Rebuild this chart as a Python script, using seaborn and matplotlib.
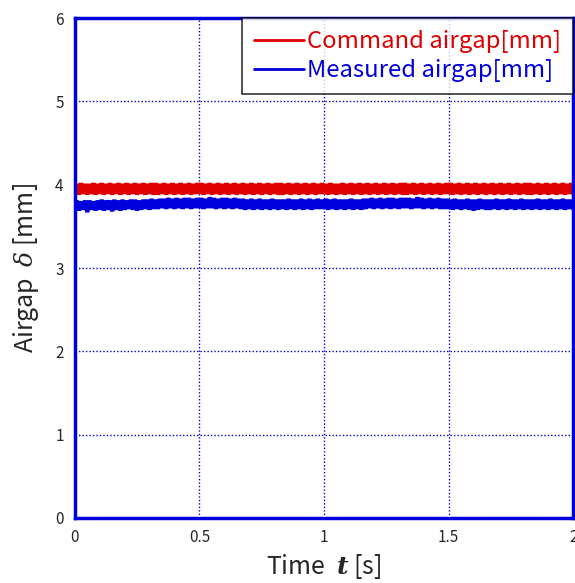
import numpy as np
import pandas as pd
import matplotlib
matplotlib.use('Agg')
import matplotlib.pyplot as plt
import seaborn as sns

# command airgap [mm] (centre of trace about 3.88 .. 4.02)
command_gap = [
    3.89, 4.01, 3.88, 4.02, 3.89, 4.01, 3.88, 4.01, 3.89, 4.02, 3.88, 4.01, 3.89, 4.02, 3.88, 4.01, 3.89, 4.02, 3.88, 4.01,
    3.89, 4.02, 3.88, 4.01, 3.89, 4.02, 3.88, 4.01, 3.89, 4.02, 3.88, 4.01, 3.89, 4.02, 3.88, 4.01, 3.89, 4.02, 3.88, 4.02,
    3.88, 4.01, 3.89, 4.02, 3.88, 4.01, 3.89, 4.02, 3.88, 4.01, 3.89, 4.02, 3.88, 4.01, 3.89, 4.02, 3.88, 4.01, 3.89, 4.02,
    3.89, 4.02, 3.88, 4.01, 3.89, 4.02, 3.88, 4.01, 3.89, 4.02, 3.88, 4.01, 3.89, 4.02, 3.88, 4.01, 3.89, 4.02, 3.88, 4.01,
    3.89, 4.02, 3.88, 4.01, 3.89, 4.02, 3.88, 4.01, 3.89, 4.02, 3.88, 4.01, 3.89, 4.02, 3.88, 4.01, 3.89, 4.02, 3.88, 4.02,
    3.88, 4.01, 3.89, 4.02, 3.88, 4.01, 3.89, 4.02, 3.88, 4.01, 3.89, 4.02, 3.88, 4.01, 3.89, 4.02, 3.88, 4.01, 3.89, 4.02,
    3.89, 4.01, 3.88, 4.02, 3.89, 4.01, 3.88, 4.01, 3.89, 4.02, 3.88, 4.01, 3.89, 4.02, 3.88, 4.01, 3.89, 4.02, 3.88, 4.01,
    3.89, 4.02, 3.88, 4.01, 3.89, 4.02, 3.88, 4.01, 3.89, 4.02, 3.88, 4.01, 3.89, 4.02, 3.88, 4.01, 3.89, 4.02, 3.88, 4.02,
    3.88, 4.01, 3.89, 4.02, 3.88, 4.01, 3.89, 4.02, 3.88, 4.01, 3.89, 4.02, 3.88, 4.01, 3.89, 4.02, 3.88, 4.01, 3.89, 4.02,
    3.89, 4.02, 3.88, 4.01, 3.89, 4.02, 3.88, 4.01, 3.89, 4.02, 3.88, 4.01, 3.89, 4.02, 3.88, 4.01, 3.89, 4.02, 3.88, 4.01,
    3.89, 4.02, 3.88, 4.01, 3.89, 4.02, 3.88, 4.01, 3.89, 4.02, 3.88, 4.01, 3.89, 4.02, 3.88, 4.01, 3.89, 4.02, 3.88, 4.02,
    3.88, 4.01, 3.89, 4.02, 3.88, 4.01, 3.89, 4.02, 3.88, 4.01, 3.89, 4.02, 3.88, 4.01, 3.89, 4.02, 3.88, 4.01, 3.89, 4.02,
    3.89,
]
# measured airgap [mm] (centre of trace about 3.68 .. 3.84)
measured_gap = [
    3.70, 3.81, 3.69, 3.80, 3.70, 3.81, 3.67, 3.81, 3.70, 3.80, 3.69, 3.81, 3.70, 3.82, 3.69, 3.81, 3.70, 3.81, 3.68, 3.82,
    3.70, 3.81, 3.69, 3.82, 3.70, 3.81, 3.71, 3.82, 3.70, 3.82, 3.69, 3.81, 3.70, 3.82, 3.71, 3.82, 3.70, 3.83, 3.71, 3.82,
    3.71, 3.83, 3.72, 3.83, 3.71, 3.84, 3.72, 3.83, 3.71, 3.84, 3.72, 3.83, 3.71, 3.84, 3.72, 3.84, 3.71, 3.83, 3.72, 3.84,
    3.72, 3.84, 3.71, 3.83, 3.72, 3.85, 3.72, 3.84, 3.71, 3.83, 3.72, 3.84, 3.71, 3.84, 3.72, 3.83, 3.71, 3.84, 3.72, 3.83,
    3.71, 3.83, 3.70, 3.82, 3.71, 3.83, 3.70, 3.82, 3.71, 3.83, 3.70, 3.82, 3.71, 3.82, 3.70, 3.83, 3.71, 3.82, 3.70, 3.82,
    3.71, 3.82, 3.70, 3.83, 3.71, 3.82, 3.70, 3.82, 3.71, 3.83, 3.70, 3.82, 3.71, 3.83, 3.70, 3.82, 3.71, 3.83, 3.71, 3.82,
    3.71, 3.83, 3.70, 3.82, 3.71, 3.83, 3.70, 3.82, 3.71, 3.82, 3.70, 3.82, 3.71, 3.83, 3.70, 3.82, 3.71, 3.82, 3.70, 3.83,
    3.71, 3.83, 3.72, 3.84, 3.71, 3.83, 3.72, 3.84, 3.71, 3.83, 3.72, 3.84, 3.71, 3.84, 3.72, 3.83, 3.71, 3.84, 3.72, 3.84,
    3.72, 3.84, 3.71, 3.83, 3.72, 3.85, 3.72, 3.84, 3.71, 3.83, 3.72, 3.84, 3.71, 3.83, 3.72, 3.84, 3.71, 3.83, 3.71, 3.83,
    3.71, 3.82, 3.70, 3.83, 3.71, 3.82, 3.70, 3.82, 3.71, 3.83, 3.70, 3.82, 3.69, 3.82, 3.70, 3.83, 3.71, 3.82, 3.70, 3.82,
    3.70, 3.82, 3.71, 3.83, 3.70, 3.82, 3.71, 3.82, 3.70, 3.83, 3.71, 3.82, 3.70, 3.82, 3.71, 3.83, 3.70, 3.82, 3.71, 3.82,
    3.70, 3.82, 3.71, 3.83, 3.70, 3.82, 3.71, 3.82, 3.70, 3.83, 3.71, 3.82, 3.70, 3.82, 3.71, 3.83, 3.70, 3.82, 3.71, 3.82,
    3.71,
]
time = np.linspace(0, 2, len(command_gap))

x_ticks = [0, 0.5, 1, 1.5, 2]
x_labels = ['0', '0.5', '1', '1.5', '2']
y_ticks = [0, 1, 2, 3, 4, 5, 6]

df = pd.DataFrame({'t': time, 'cmd': command_gap, 'meas': measured_gap})

sns.set_style('white')
plt.rcParams['font.family'] = ['Noto Sans CJK JP', 'DejaVu Sans']
plt.rcParams['mathtext.fontset'] = 'dejavuserif'
plt.rcParams['lines.solid_joinstyle'] = 'bevel'

blue = '#0000dd'
red = '#e00000'

f = plt.figure(figsize=(5.75, 5.83), dpi=100)
ax = f.add_axes([0.130, 0.1115, 0.867, 0.8575])

sns.lineplot(data=df, x='t', y='cmd', ax=ax, color=red, lw=3.0, label='Command airgap[mm]')
sns.lineplot(data=df, x='t', y='meas', ax=ax, color=blue, lw=3.0, label='Measured airgap[mm]')

ax.set_xlim(0, 2)
ax.set_ylim(0, 6)
ax.set_xticks(x_ticks)
ax.set_xticklabels(x_labels)
ax.set_yticks(y_ticks)
ax.grid(True, color=blue, ls=(0, (1, 1.5)), lw=1.0)
for s in ax.spines.values():
    s.set_color(blue)
    s.set_linewidth(2.5)
ax.tick_params(direction='in', length=5, width=2, color=blue, labelsize=11, pad=8)
ax.set_xlabel(r'Time  $\boldsymbol{t}$ [s]', fontsize=18, labelpad=4)
ax.set_ylabel(r'Airgap  $\delta$ [mm]', fontsize=18, labelpad=10)

leg = ax.legend(loc='upper right', fontsize=17.2, frameon=True, fancybox=False,
                borderaxespad=0.0, handlelength=2.1, handletextpad=0.15,
                borderpad=0.5, labelspacing=0.25)
leg.get_frame().set_edgecolor('black')
leg.get_frame().set_linewidth(1.2)
for ln in leg.get_lines():
    ln.set_linewidth(2.0)
for txt, c in zip(leg.get_texts(), [red, blue]):
    txt.set_color(c)

f.savefig('out.png', dpi=100)
plt.close('all')
